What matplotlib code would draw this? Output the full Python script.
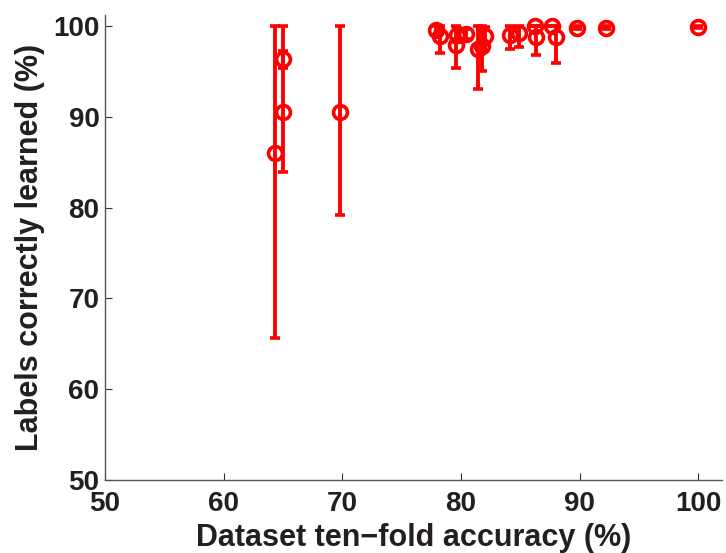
import matplotlib
matplotlib.use("Agg")
import matplotlib.pyplot as plt
import numpy as np

# Dataset ten-fold accuracy (%)
accuracy = [64.3, 65.0, 65.0, 69.8, 77.9, 78.2, 79.6, 79.7, 80.4, 81.4, 81.8,
            82.0, 84.1, 84.9, 86.2, 86.3, 87.65, 88.0, 89.75, 92.2, 100.0]
# Labels correctly learned (%)
learned = [86.0, 96.3, 90.5, 90.5, 99.5, 98.9, 97.9, 99.0, 99.1, 97.5, 97.8,
           98.9, 99.0, 99.2, 100.0, 98.8, 100.0, 98.8, 99.8, 99.8, 99.9]
# lower / upper error extents
err_low = [20.4, 0.9, 6.6, 11.3, 0.5, 1.9, 2.5, 0.8, 0.6, 4.5, 2.8,
           1.0, 1.6, 1.5, 0.0, 2.0, 0.0, 2.9, 0.2, 0.2, 0.1]
err_high = [14.0, 0.9, 9.5, 9.5, 0.5, 1.1, 2.1, 0.8, 0.6, 2.5, 2.2,
            1.0, 1.0, 0.8, 0.0, 1.2, 0.0, 1.2, 0.2, 0.2, 0.1]

x_ticks = [50, 60, 70, 80, 90, 100]
y_ticks = [50, 60, 70, 80, 90, 100]

plt.rcParams['font.family'] = ['Liberation Sans', 'DejaVu Sans']

fig = plt.figure(figsize=(7.26, 5.53), dpi=100)
ax = fig.add_axes([0.1446, 0.132, 0.85, 0.841])

ax.errorbar(accuracy, learned, yerr=[err_low, err_high], fmt='o',
            color='#ff0000', ecolor='#ff0000', elinewidth=2.8, capsize=3.5,
            capthick=2.8, markersize=10, markerfacecolor='none',
            markeredgewidth=2.6, clip_on=False)

ax.set_xlim(50, 102)
ax.set_ylim(50, 101.2)
ax.set_xticks(x_ticks)
ax.set_yticks(y_ticks)

for s in ['top', 'right']:
    ax.spines[s].set_visible(False)
for s in ['bottom', 'left']:
    ax.spines[s].set_color('#555555')
    ax.spines[s].set_linewidth(1.0)

ax.tick_params(direction='in', length=5, width=0.8, color='#333333',
               labelsize=20, labelcolor='#231f20')
ax.tick_params(axis='x', pad=8)
ax.tick_params(axis='y', pad=4)
for lbl in ax.get_xticklabels() + ax.get_yticklabels():
    lbl.set_fontweight('bold')

ax.set_xlabel('Dataset ten\u2212fold accuracy (%)', fontsize=22,
              fontweight='bold', color='#231f20', labelpad=4)
ax.set_ylabel('Labels correctly learned (%)', fontsize=22,
              fontweight='bold', color='#231f20', labelpad=6)

fig.savefig('out.png', dpi=100)
